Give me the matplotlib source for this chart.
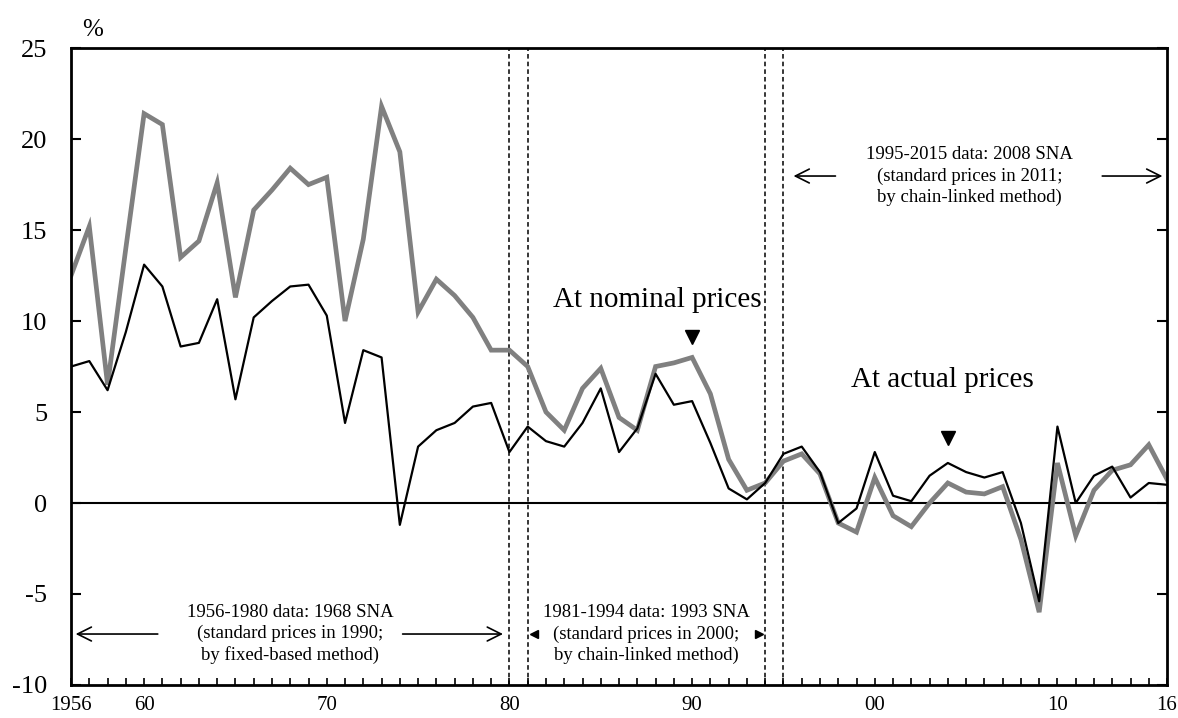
import numpy as np
import matplotlib
matplotlib.use("Agg")
import matplotlib.pyplot as plt

plt.rcParams['font.family'] = ['Liberation Serif', 'DejaVu Serif']

years = np.arange(1956, 2017)

# growth rate at nominal prices (gray, thick)
nominal = [12.5, 15.2, 6.5, 14.0, 21.4, 20.8, 13.5, 14.4, 17.6, 11.3,
           16.1, 17.2, 18.4, 17.5, 17.9, 10.0, 14.5, 21.8, 19.3, 10.5,
           12.3, 11.4, 10.2, 8.4, 8.4, 7.5, 5.0, 4.0, 6.3, 7.4,
           4.7, 4.0, 7.5, 7.7, 8.0, 6.0, 2.4, 0.7, 1.1, 2.3,
           2.7, 1.6, -1.1, -1.6, 1.4, -0.7, -1.3, 0.0, 1.1, 0.6,
           0.5, 0.9, -2.0, -6.0, 2.2, -1.8, 0.7, 1.8, 2.1, 3.2,
           1.3]

# growth rate at actual (real) prices (black, thin)
actual = [7.5, 7.8, 6.2, 9.4, 13.1, 11.9, 8.6, 8.8, 11.2, 5.7,
          10.2, 11.1, 11.9, 12.0, 10.3, 4.4, 8.4, 8.0, -1.2, 3.1,
          4.0, 4.4, 5.3, 5.5, 2.8, 4.2, 3.4, 3.1, 4.4, 6.3,
          2.8, 4.1, 7.1, 5.4, 5.6, 3.3, 0.8, 0.2, 1.1, 2.7,
          3.1, 1.7, -1.1, -0.3, 2.8, 0.4, 0.1, 1.5, 2.2, 1.7,
          1.4, 1.7, -1.1, -5.4, 4.2, 0.0, 1.5, 2.0, 0.3, 1.1,
          1.0]

breaks = [1980, 1981, 1994, 1995]
tick_pos = [1956, 1960, 1970, 1980, 1990, 2000, 2010, 2016]
tick_lab = ["1956", "60", "70", "80", "90", "00", "10", "16"]

fig = plt.figure(figsize=(11.78, 7.18), dpi=100)
ax = fig.add_axes([0.0603, 0.046, 0.9304, 0.887])

ax.axhline(0, color='black', lw=1.5, zorder=1)
for b in breaks:
    ax.axvline(b, color='black', lw=1.1, ls=(0, (3, 2)), zorder=1)

ax.plot(years, nominal, color='#808080', lw=3.4, zorder=2, solid_joinstyle='miter')
ax.plot(years, actual, color='black', lw=1.6, zorder=3)

ax.set_xlim(1956, 2016)
ax.set_ylim(-10, 25)
ax.set_yticks(np.arange(-10, 26, 5))
ax.set_yticklabels([str(v) for v in range(-10, 26, 5)], fontsize=19)
ax.set_xticks(tick_pos)
ax.set_xticklabels(tick_lab, fontsize=15)
ax.set_xticks(years, minor=True)
ax.tick_params(axis='y', direction='in', length=7, width=1.5, right=True, pad=17)
ax.tick_params(axis='x', which='both', direction='in', length=5, width=1.2, pad=8)
for s in ax.spines.values():
    s.set_linewidth(2)

ax.text(1957.2, 26.0, "%", fontsize=18, ha='center', va='center', clip_on=False)

# series labels
ax.text(1988.1, 11.15, "At nominal prices", fontsize=21, ha='center', va='center')
ax.plot([1990], [9.1], marker='v', color='black', ms=10, ls='none')
ax.text(2003.7, 6.75, "At actual prices", fontsize=21, ha='center', va='center')
ax.plot([2004], [3.57], marker='v', color='black', ms=10, ls='none')

# data period notes
note_kw = dict(fontsize=13.5, ha='center', va='center', linespacing=1.3)
ax.text(1968.0, -7.2, "1956-1980 data: 1968 SNA\n(standard prices in 1990;\nby fixed-based method)", **note_kw)
arr = dict(arrowstyle='->', color='black', lw=1.2, mutation_scale=25)
ax.annotate("", xy=(1956.1, -7.2), xytext=(1960.9, -7.2), arrowprops=arr)
ax.annotate("", xy=(1979.8, -7.2), xytext=(1974.0, -7.2), arrowprops=arr)

ax.text(1987.5, -7.2, "1981-1994 data: 1993 SNA\n(standard prices in 2000;\nby chain-linked method)", **note_kw)
ax.plot([1981.35], [-7.2], marker='<', color='black', ms=6, ls='none')
ax.plot([1993.65], [-7.2], marker='>', color='black', ms=6, ls='none')

ax.text(2005.2, 17.97, "1995-2015 data: 2008 SNA\n(standard prices in 2011;\nby chain-linked method)", **note_kw)
ax.annotate("", xy=(1995.4, 17.97), xytext=(1998.0, 17.97), arrowprops=arr)
ax.annotate("", xy=(2015.9, 17.97), xytext=(2012.3, 17.97), arrowprops=arr)

fig.savefig("out.png", dpi=100)
